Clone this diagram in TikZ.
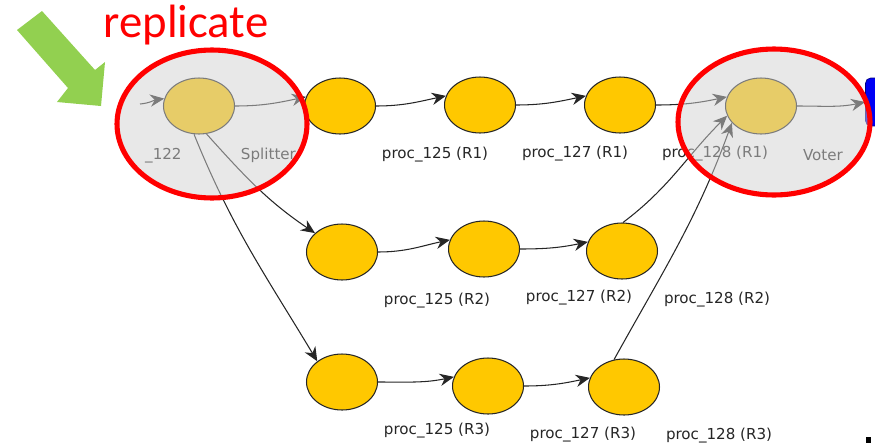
\documentclass[tikz,border=0pt]{standalone}
\usepackage{fontspec}
\usepackage{tikz}
\usetikzlibrary{arrows.meta,shapes.geometric}
\newfontfamily\lblfont{DejaVu Sans}
\newfontfamily\capfont{Carlito}
\definecolor{procyellow}{RGB}{255,200,0}
\definecolor{hintgreen}{RGB}{146,208,80}
\definecolor{ringred}{RGB}{255,0,0}
\definecolor{sinkblue}{RGB}{0,0,245}

\begin{document}
\begin{tikzpicture}[
x=0.02cm, y=-0.02cm,
font=\lblfont\fontsize{8.6}{10}\selectfont,
proc/.style={ellipse,draw=black!85,line width=0.6pt,fill=procyellow,
    minimum width=1.42cm,minimum height=1.12cm,inner sep=0pt},
% label text starts 42 units right of the centre, 49 below
tag/.style={label={[xshift=0.84cm,yshift=-0.98cm,inner sep=0pt,
    text=black!85]center:\rlap{#1}}},
link/.style={line width=0.6pt,draw=black!85,
    -{Stealth[length=8pt,width=7pt,inset=2.6pt]}},
hop/.style={out=0,in=192},
group/.style={fill=black!18,fill opacity=0.5},
ring/.style={draw=ringred,line width=2.9pt}]
    \useasboundingbox (0,0) rectangle (875,443);

    % green pointer and caption
    \fill[hintgreen] (17,30) -- (42,11) -- (95,70) -- (105,62) -- (101,106)
        -- (57,102) -- (68,88) -- cycle;
    \node[font=\capfont\fontsize{26.6}{30}\selectfont,text=ringred,anchor=base]
        (caption) at (186,37) {replicate};

    % node that leaves the frame on the right
    \node[draw=blue!50!black,fill=sinkblue,rounded corners=3pt,
        minimum width=0.5cm,minimum height=0.96cm] (sink) at (878,102) {};

    % processes
    \coordinate (src) at (140,104);
    \node[anchor=west,text=black!85] (in122) at (139,156) {\_122};
    \node[proc,tag=Splitter] (split) at (199,106) {};
    \node[proc,tag={proc\_125 (R1)}] (a1) at (340,106) {};
    \node[proc,tag={proc\_127 (R1)}] (b1) at (480,105) {};
    \node[proc,tag={proc\_128 (R1)}] (c1) at (620,105) {};
    \node[proc,tag=Voter] (voter) at (761,106) {};

    \node[proc,tag={proc\_125 (R2)}] (a2) at (342,252) {};
    \node[proc,tag={proc\_127 (R2)}] (b2) at (484,249) {};
    \node[proc,tag={proc\_128 (R2)}] (c2) at (622,251) {};

    \node[proc,tag={proc\_125 (R3)}] (a3) at (342,382) {};
    \node[proc,tag={proc\_127 (R3)}] (b3) at (488,386) {};
    \node[proc,tag={proc\_128 (R3)}] (c3) at (624,387) {};

    % edges
    \draw[link] (src) to[out=5,in=188] (split.168);
    \draw[link] (split.east) to[hop] (a1.165);
    \draw[link] (a1.east) to[hop] (b1.165);
    \draw[link] (b1.east) to[hop] (c1.165);
    \draw[link] (c1.east) to[hop] (voter.165);
    \draw[link] (voter.east) to[hop] (sink.west);
    \draw[link] (a2.east) to[hop] (b2.165);
    \draw[link] (b2.east) to[hop] (c2.165);
    \draw[link] (a3.east) to[hop] (b3.165);
    \draw[link] (b3.east) to[hop] (c3.165);
    \draw[link] (split.-75) to[out=-48,in=146] (a2.145);
    \draw[link] (split.-100) to[out=-68,in=121] (a3.140);
    \draw[link] (c2.88) to[out=37,in=225] (voter.196);
    \draw[link] (c3.110) to[out=61,in=250] (voter.210);

    % replica groups
    \fill[group] (212,124) ellipse [x radius=1.9cm,y radius=1.48cm];
    \fill[group] (774,122) ellipse [x radius=1.92cm,y radius=1.46cm];
    \draw[ring] (212,124) ellipse [x radius=1.9cm,y radius=1.48cm];
    \draw[ring] (774,122) ellipse [x radius=1.92cm,y radius=1.46cm];

    \fill (866,437) rectangle (871,443);
\end{tikzpicture}
\end{document}
